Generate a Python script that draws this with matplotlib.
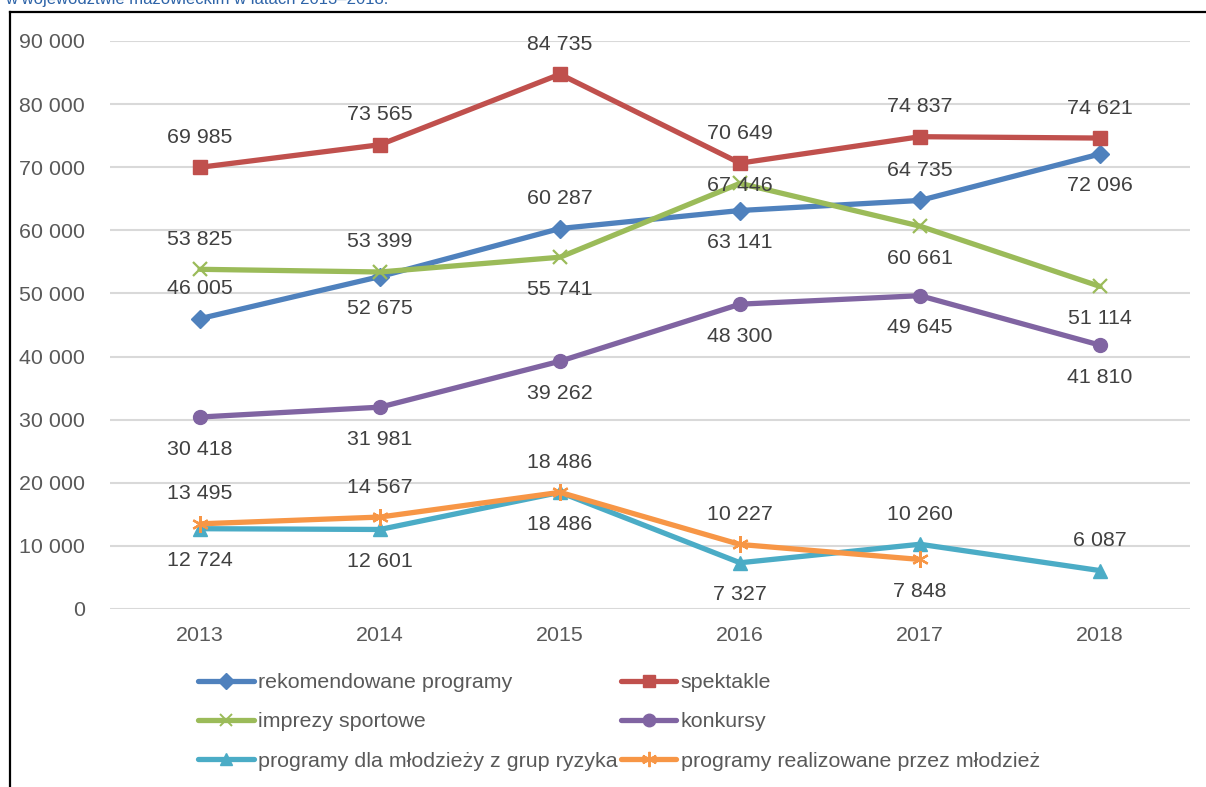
import matplotlib
matplotlib.use("Agg")
import matplotlib.pyplot as plt
from matplotlib.lines import Line2D

plt.rcParams['font.family'] = ['Liberation Sans', 'DejaVu Sans']

years = ['2013', '2014', '2015', '2016', '2017', '2018']
series_names = ['rekomendowane programy', 'spektakle', 'imprezy sportowe',
                'konkursy', 'programy dla młodzieży z grup ryzyka',
                'programy realizowane przez młodzież']
rekomendowane = [46005, 52675, 60287, 63141, 64735, 72096]
spektakle = [69985, 73565, 84735, 70649, 74837, 74621]
imprezy = [53825, 53399, 55741, 67446, 60661, 51114]
konkursy = [30418, 31981, 39262, 48300, 49645, 41810]
grupy_ryzyka = [12724, 12601, 18486, 7327, 10260, 6087]
mlodziez = [13495, 14567, 18486, 10227, 7848]
yticks = [0, 10000, 20000, 30000, 40000, 50000, 60000, 70000, 80000, 90000]

# label placement: a = above, b = below, c = centre
label_pos = [
    ['a', 'b', 'a', 'b', 'a', 'b'],
    ['a', 'a', 'a', 'a', 'a', 'a'],
    ['a', 'a', 'b', 'c', 'b', 'b'],
    ['b', 'b', 'b', 'b', 'b', 'b'],
    ['b', 'b', 'b', 'b', 'a', 'a'],
    ['a', 'a', 'a', 'a', 'b'],
]

colors = ['#4F81BD', '#C0504D', '#9BBB59', '#8064A2', '#4BACC6', '#F79646']
markers = ['D', 's', 'x', 'o', '^', (6, 2, 0)]
msizes = [9, 10, 10, 10, 10, 12]
data = [rekomendowane, spektakle, imprezy, konkursy, grupy_ryzyka, mlodziez]

FS = 15.4

def fmt(v):
    return f"{v:,}".replace(',', ' ')

fig = plt.figure(figsize=(12.06, 7.87), dpi=100)
ax = fig.add_axes([110/1206, 178/787, 1080/1206, 568/787])

handles = []
for name, vals, c, m, ms, pos in zip(series_names, data, colors, markers, msizes, label_pos):
    xs = list(range(len(vals)))
    mew = 1.6 if m in ('x', (6, 2, 0)) else 1
    h, = ax.plot(xs, vals, color=c, lw=3.8, marker=m, markersize=ms,
                 markeredgewidth=mew, markeredgecolor=c, markerfacecolor=c,
                 solid_capstyle='round', label=name)
    handles.append(h)
    for x, v, p in zip(xs, vals, pos):
        off = {'a': 30, 'b': -32, 'c': -2}[p]
        ax.annotate(fmt(v), (x, v), xytext=(0, off), textcoords='offset pixels',
                    ha='center', va='center', fontsize=FS, color='#404040')

ax.set_xlim(-0.5, 5.5)
ax.set_ylim(0, 90000)
ax.set_xticks(range(len(years)))
ax.set_xticklabels(years)
ax.set_yticks(yticks)
ax.set_yticklabels([fmt(t) for t in yticks])
ax.tick_params(axis='both', length=0, labelsize=FS, labelcolor='#595959')
ax.tick_params(axis='y', pad=18)
ax.tick_params(axis='x', pad=12)
ax.grid(axis='y', color='#D9D9D9', lw=1.5)
ax.set_axisbelow(True)
for s in ax.spines.values():
    s.set_visible(False)

order = [0, 2, 4, 1, 3, 5]
leg_handles = []
for i in order:
    m = markers[i]
    mew = 1.4 if m in ('x', (6, 2, 0)) else 1
    leg_handles.append(Line2D([], [], color=colors[i], lw=3.8, marker=m,
                              markersize=msizes[i] - 1, markeredgewidth=mew,
                              markeredgecolor=colors[i], markerfacecolor=colors[i],
                              solid_capstyle='round'))
leg = fig.legend(leg_handles, [series_names[i] for i in order],
                 ncol=2, loc='upper left', bbox_to_anchor=(198/1206, 1 - 673/787),
                 frameon=False, fontsize=FS, handlelength=2.6, handletextpad=0.2,
                 columnspacing=0.15, labelspacing=0.95, borderpad=0, borderaxespad=0)
for t in leg.get_texts():
    t.set_color('#595959')

# frame lines and cropped title
fig.add_artist(Line2D([9.5/1206, 1], [1 - 11.5/787, 1 - 11.5/787], color='black', lw=1.6,
                      transform=fig.transFigure))
fig.add_artist(Line2D([9.5/1206, 9.5/1206], [0, 1 - 11.5/787], color='black', lw=1.6,
                      transform=fig.transFigure))
fig.text(5/1206, 1 - 4/787, 'w województwie mazowieckim w latach 2013–2018.',
         fontsize=12, color='#2E64A8', va='baseline', ha='left')

fig.savefig('out.png', dpi=100)
